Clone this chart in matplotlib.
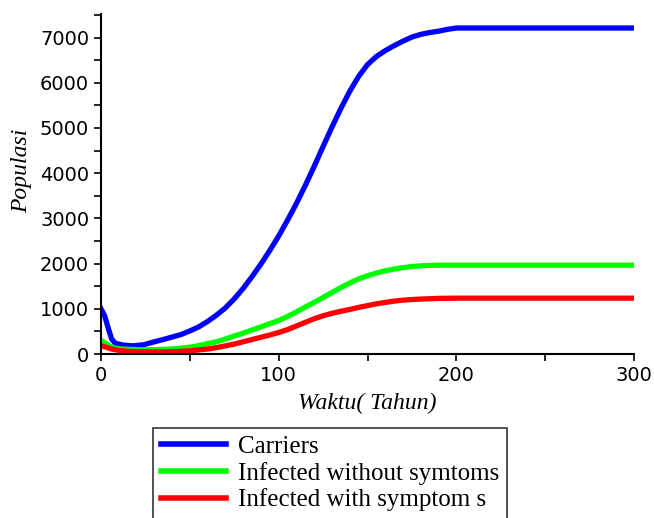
import matplotlib.pyplot as plt
from matplotlib.ticker import MultipleLocator

# --- data ---
t_carriers = [0, 2, 4, 6, 8, 12, 18, 24, 30, 35, 40, 45, 50, 55, 60, 65, 70, 75, 80, 85,
              90, 95, 100, 105, 110, 115, 120, 125, 130, 135, 140, 145, 150, 155, 160,
              165, 170, 175, 180, 185, 190, 195, 200, 250, 300]
carriers = [1000, 850, 580, 330, 240, 200, 180, 205, 270, 320, 375, 430, 510, 600, 720,
            860, 1020, 1220, 1450, 1710, 1990, 2290, 2610, 2960, 3330, 3730, 4150, 4590,
            5020, 5430, 5810, 6140, 6400, 6580, 6710, 6820, 6920, 7010, 7070, 7110, 7140,
            7180, 7210, 7210, 7210]

t_infected = [0, 2, 5, 8, 12, 20, 30, 40, 50, 55, 60, 65, 70, 75, 80, 85, 90, 95, 100,
              105, 110, 115, 120, 125, 130, 135, 140, 145, 150, 155, 160, 165, 170, 175,
              180, 185, 190, 200, 250, 300]
infected_no_sym = [300, 250, 170, 130, 110, 95, 95, 110, 150, 185, 230, 270, 330, 400, 460,
                   530, 600, 670, 740, 830, 930, 1040, 1140, 1250, 1360, 1470, 1570, 1660,
                   1730, 1790, 1840, 1880, 1910, 1935, 1950, 1960, 1965, 1965, 1965, 1965]

t_symptoms = [0, 3, 6, 10, 15, 20, 30, 40, 50, 55, 60, 65, 70, 75, 80, 85, 90, 95, 100,
              105, 110, 115, 120, 125, 130, 135, 140, 145, 150, 155, 160, 165, 170, 175,
              180, 190, 200, 250, 300]
infected_sym = [180, 150, 110, 80, 60, 50, 45, 50, 70, 90, 110, 140, 180, 220, 270, 320,
                370, 420, 475, 540, 620, 700, 780, 845, 900, 945, 985, 1030, 1070, 1110,
                1140, 1170, 1190, 1205, 1215, 1230, 1235, 1235, 1235]

labels = ["Carriers", "Infected without symtoms", "Infected with symptom s"]

plt.rcParams['font.family'] = ['Liberation Serif', 'DejaVu Serif']

fig = plt.figure(figsize=(6.54, 5.18), dpi=100)
ax = fig.add_axes([101 / 654, 1 - 354 / 518, 533 / 654, 340 / 518])

ax.plot(t_carriers, carriers, color='#0000ff', lw=3.8, label=labels[0])
ax.plot(t_infected, infected_no_sym, color='#00ff00', lw=3.8, label=labels[1])
ax.plot(t_symptoms, infected_sym, color='#ff0000', lw=3.8, label=labels[2])

ax.set_xlim(0, 300)
ax.set_ylim(0, 7520)
ax.xaxis.set_major_locator(MultipleLocator(100))
ax.xaxis.set_minor_locator(MultipleLocator(50))
ax.yaxis.set_major_locator(MultipleLocator(1000))
ax.yaxis.set_minor_locator(MultipleLocator(500))
ax.tick_params(which='both', direction='out', length=5, width=1.2, labelsize=14)
for lbl in ax.get_xticklabels() + ax.get_yticklabels():
    lbl.set_family('DejaVu Sans')

for side in ['top', 'right']:
    ax.spines[side].set_visible(False)
for side in ['left', 'bottom']:
    ax.spines[side].set_linewidth(1.5)

ax.set_xlabel("Waktu( Tahun)", fontsize=17, style='italic', labelpad=6)
ax.set_ylabel("Populasi", fontsize=17, style='italic')
ax.yaxis.set_label_coords(-0.13, 0.54)

leg = fig.legend(loc='upper left', bbox_to_anchor=(153 / 654, 1 - 428 / 518),
                 fontsize=18, frameon=True, fancybox=False, edgecolor='black',
                 handlelength=2.6, handletextpad=0.5, labelspacing=0.15,
                 borderpad=0.3, borderaxespad=0)
leg.get_frame().set_linewidth(1.2)
for line in leg.get_lines():
    line.set_linewidth(4)

fig.savefig("out.png", dpi=100)
